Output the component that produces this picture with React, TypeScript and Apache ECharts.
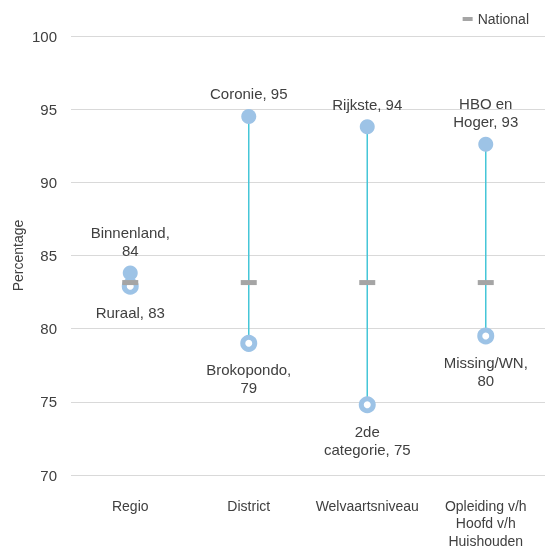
import React, { useEffect, useRef } from "react";
import * as echarts from "echarts";

const categories = ["Regio", "District", "Welvaartsniveau", "Opleiding v/h\nHoofd v/h\nHuishouden"];
const highValues = [83.8, 94.5, 93.8, 92.6];
const lowValues = [82.9, 79.0, 74.8, 79.5];
const nationalValues = [83.15, 83.15, 83.15, 83.15];
const highLabels = ["Binnenland,\n84", "Coronie, 95", "Rijkste, 94", "HBO en\nHoger, 93"];
const lowLabels = ["Ruraal, 83", "Brokopondo,\n79", "2de\ncategorie, 75", "Missing/WN,\n80"];
const yTicks = { min: 70, max: 100, interval: 5 };

const FONT = "Liberation Sans";
const TEXT = "#404040";

export default function App() {
  const ref = useRef<HTMLDivElement>(null);
  useEffect(() => {
    if (!ref.current) return;
    const chart = echarts.init(ref.current, undefined, { renderer: "svg" });
    const rangeData = categories.map((_, i) => [i, lowValues[i], highValues[i]]);
    chart.setOption({
      animation: false,
      textStyle: { fontFamily: FONT },
      grid: { left: 71, right: 8, top: 36, bottom: 75 },
      legend: {
        data: [{ name: "National", icon: "rect" }],
        right: 19,
        top: 7,
        itemWidth: 10,
        itemHeight: 4,
        itemGap: 4,
        textStyle: { fontSize: 14, color: TEXT, fontFamily: FONT },
      },
      xAxis: {
        type: "category",
        data: categories,
        boundaryGap: true,
        axisLine: { show: false },
        axisTick: { show: false },
        axisLabel: { color: TEXT, fontSize: 14, margin: 22, lineHeight: 17.5, fontFamily: FONT, interval: 0 },
        splitLine: { show: false },
      },
      yAxis: {
        type: "value",
        min: yTicks.min,
        max: yTicks.max,
        interval: yTicks.interval,
        name: "Percentage",
        nameLocation: "middle",
        nameGap: 46,
        nameMoveOverlap: false,
        nameTextStyle: { color: TEXT, fontSize: 14, fontFamily: FONT },
        axisLine: { show: false },
        axisTick: { show: false },
        axisLabel: { color: TEXT, fontSize: 15, margin: 14, fontFamily: FONT },
        splitLine: { lineStyle: { color: "#D9D9D9", width: 1 } },
      },
      series: [
        {
          name: "Range",
          type: "custom",
          z: 2,
          renderItem: (params: any, api: any) => {
            const p1 = api.coord([api.value(0), api.value(1)]);
            const p2 = api.coord([api.value(0), api.value(2)]);
            return {
              type: "line",
              shape: { x1: p1[0], y1: p1[1], x2: p2[0], y2: p2[1] },
              style: { stroke: "#45C6D8", lineWidth: 1.5 },
            };
          },
          encode: { x: 0, y: [1, 2] },
          data: rangeData,
        },
        {
          name: "Low",
          type: "scatter",
          z: 3,
          symbol: "circle",
          symbolSize: 12,
          itemStyle: { color: "#FFFFFF", borderColor: "#9DC3E6", borderWidth: 5, opacity: 1 },
          data: lowValues.map((v, i) => ({
            value: [i, v],
            label: {
              show: true,
              position: "bottom",
              distance: 9,
              formatter: lowLabels[i],
              color: TEXT,
              fontSize: 15,
              lineHeight: 18,
              fontFamily: FONT,
              align: "center",
            },
          })),
        },
        {
          name: "High",
          type: "scatter",
          z: 4,
          symbol: "circle",
          symbolSize: 15,
          itemStyle: { color: "#9DC3E6", opacity: 1 },
          data: highValues.map((v, i) => ({
            value: [i, v],
            label: {
              show: true,
              position: "top",
              distance: 6,
              formatter: highLabels[i],
              color: TEXT,
              fontSize: 15,
              lineHeight: 18,
              fontFamily: FONT,
              align: "center",
            },
          })),
        },
        {
          name: "National",
          type: "scatter",
          z: 5,
          symbol: "rect",
          symbolSize: [16, 5],
          itemStyle: { color: "#A5A5A5", opacity: 1 },
          data: nationalValues.map((v, i) => [i, v]),
        },
      ],
    });
    return () => chart.dispose();
  }, []);
  return <div ref={ref} style={{ width: 553, height: 550, position: "fixed", left: 0, top: 0 }} />;
}
